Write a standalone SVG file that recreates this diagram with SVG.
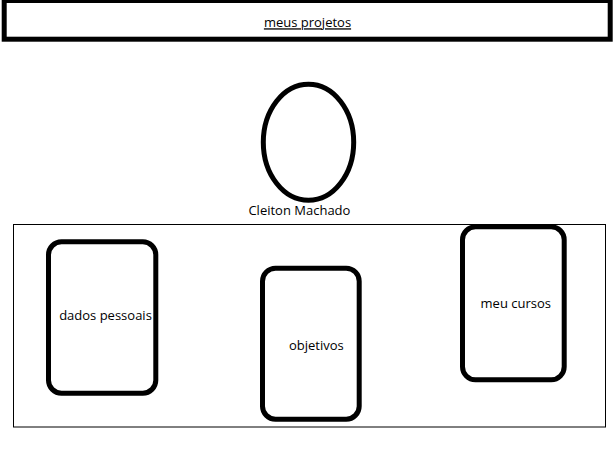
<svg xmlns="http://www.w3.org/2000/svg" width="614" height="460" viewBox="0 0 614 460">
<style>
.t{font-family:"Open Sans","Noto Sans","Liberation Sans",sans-serif;font-size:13px;fill:#000;text-anchor:middle}
.card{fill:#fff;stroke:#000;stroke-width:5}
</style>
<rect width="614" height="460" fill="#fff"/>
<g id="header">
<rect x="4.2" y="0.5" width="606" height="38.7" fill="#fff" stroke="#000" stroke-width="5"/>
<text class="t" x="307.5" y="27.3" text-decoration="underline">meus projetos</text>
</g>
<g id="avatar">
<ellipse cx="308.5" cy="142.2" rx="45.2" ry="58" fill="#fff" stroke="#000" stroke-width="5"/>
<text class="t" x="299.4" y="215">Cleiton Machado</text>
</g>
<g id="container">
<rect x="13.5" y="224.5" width="592" height="202.5" fill="none" stroke="#000" stroke-width="1"/>
</g>
<g id="dados-pessoais">
<rect class="card" x="48.5" y="241.8" width="107.3" height="151.4" rx="13"/>
<text class="t" x="105.5" y="320">dados pessoais</text>
</g>
<g id="objetivos">
<rect class="card" x="262.5" y="268.2" width="96.7" height="151" rx="13"/>
<text class="t" x="316.3" y="350">objetivos</text>
</g>
<g id="meu-cursos">
<rect class="card" x="462.5" y="226.8" width="101.7" height="153" rx="13"/>
<text class="t" x="515.8" y="308">meu cursos</text>
</g>
<g id="connectors"></g>
</svg>
